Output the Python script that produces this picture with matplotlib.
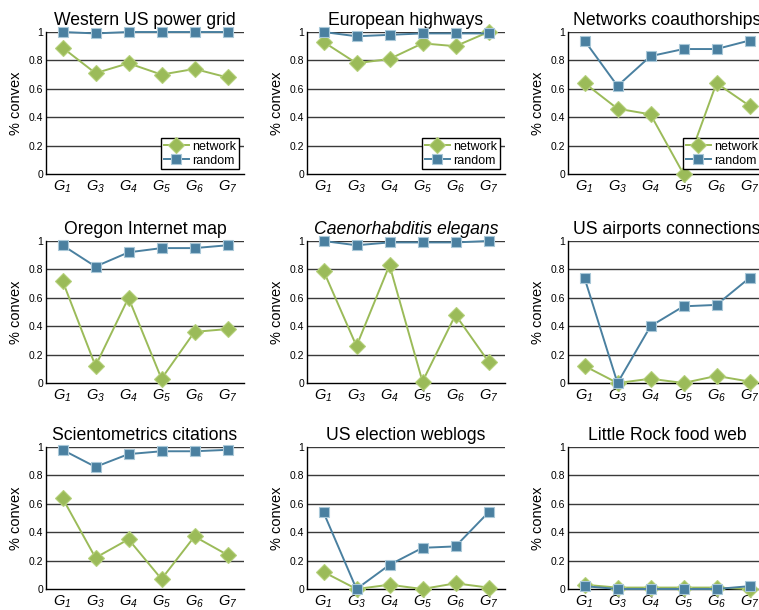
import numpy as np
import matplotlib
matplotlib.use("Agg")
import matplotlib.pyplot as plt

plt.rcParams['font.family'] = ['Liberation Sans', 'DejaVu Sans']
plt.rcParams['mathtext.fontset'] = 'custom'
# digits fall back to the rm font in mathtext, so make it italic too
plt.rcParams['mathtext.rm'] = 'Liberation Sans:italic'
plt.rcParams['mathtext.it'] = 'Liberation Sans:italic'

# x categories
graphs = ["1", "3", "4", "5", "6", "7"]

titles = [
    "Western US power grid", "European highways", "Networks coauthorships",
    "Oregon Internet map", "Caenorhabditis elegans", "US airports connections",
    "Scientometrics citations", "US election weblogs", "Little Rock food web",
]

network_vals = [
    [0.89, 0.71, 0.78, 0.70, 0.74, 0.68],
    [0.93, 0.78, 0.81, 0.92, 0.90, 1.00],
    [0.64, 0.46, 0.42, 0.00, 0.64, 0.48],
    [0.72, 0.12, 0.60, 0.03, 0.36, 0.38],
    [0.79, 0.26, 0.83, 0.01, 0.48, 0.15],
    [0.12, 0.00, 0.03, 0.00, 0.05, 0.01],
    [0.64, 0.22, 0.35, 0.07, 0.37, 0.24],
    [0.12, 0.00, 0.03, 0.00, 0.04, 0.01],
    [0.03, 0.01, 0.01, 0.01, 0.01, 0.00],
]

random_vals = [
    [1.00, 0.99, 1.00, 1.00, 1.00, 1.00],
    [1.00, 0.97, 0.98, 0.99, 0.99, 0.99],
    [0.94, 0.62, 0.83, 0.88, 0.88, 0.94],
    [0.97, 0.82, 0.92, 0.95, 0.95, 0.97],
    [1.00, 0.97, 0.99, 0.99, 0.99, 1.00],
    [0.74, 0.00, 0.40, 0.54, 0.55, 0.74],
    [0.98, 0.86, 0.95, 0.97, 0.97, 0.98],
    [0.54, 0.00, 0.17, 0.29, 0.30, 0.54],
    [0.02, 0.00, 0.00, 0.00, 0.00, 0.02],
]

GREEN = '#9bbb59'
BLUE = '#4a80a0'

W, H = 759, 610
fig = plt.figure(figsize=(W / 100, H / 100), dpi=100)

# panel placement in pixels (right column runs past the image edge, as in the original)
col_left = [46, 307, 568]
row_top = [32, 241, 447]
ax_w, ax_h = 198, 142

x = np.arange(1, len(graphs) + 1)
xlabels = [r'$G_{%s}$' % g for g in graphs]

for i, title in enumerate(titles):
    r, c = divmod(i, 3)
    ax = fig.add_axes([col_left[c] / W, 1 - (row_top[r] + ax_h) / H, ax_w / W, ax_h / H])

    for yv in [0.2, 0.4, 0.6, 0.8, 1.0]:
        ax.axhline(yv, color='#3a3a3a', lw=1.0, zorder=1)

    ax.plot(x, network_vals[i], color=GREEN, lw=1.4, marker='D', markersize=8,
            markerfacecolor=GREEN, markeredgecolor='#b5d07a', markeredgewidth=0.8,
            label='network', clip_on=False, zorder=3)
    ax.plot(x, random_vals[i], color=BLUE, lw=1.4, marker='s', markersize=7.5,
            markerfacecolor=BLUE, markeredgecolor='#a9c8d8', markeredgewidth=0.8,
            label='random', clip_on=False, zorder=4)

    ax.set_xlim(0.5, 6.5)
    ax.set_ylim(0, 1)
    ax.set_xticks(x)
    ax.set_xticklabels(xlabels, fontsize=10.5)
    ax.set_yticks([0, 0.2, 0.4, 0.6, 0.8, 1])
    ax.set_yticklabels(['0', '0.2', '0.4', '0.6', '0.8', '1'], fontsize=7.5)
    ax.tick_params(axis='both', length=0)
    ax.tick_params(axis='y', pad=2)
    ax.tick_params(axis='x', pad=3)
    for s in ['top', 'right']:
        ax.spines[s].set_visible(False)
    for s in ['left', 'bottom']:
        ax.spines[s].set_linewidth(1.0)
        ax.spines[s].set_color('black')

    ax.set_ylabel('% convex', fontsize=10.5, labelpad=4)
    if title == "Caenorhabditis elegans":
        ax.set_title(title, fontsize=12.7, style='italic', pad=5)
    else:
        ax.set_title(title, fontsize=12.7, pad=5)

    if r == 0:
        leg = ax.legend(loc='lower right', fontsize=9, handlelength=2.0,
                        fancybox=False, framealpha=1, edgecolor='black',
                        borderpad=0.2, labelspacing=0.15, handletextpad=0.3,
                        borderaxespad=0.4)
        leg.get_frame().set_linewidth(1.0)

fig.savefig('out.png', dpi=100)
